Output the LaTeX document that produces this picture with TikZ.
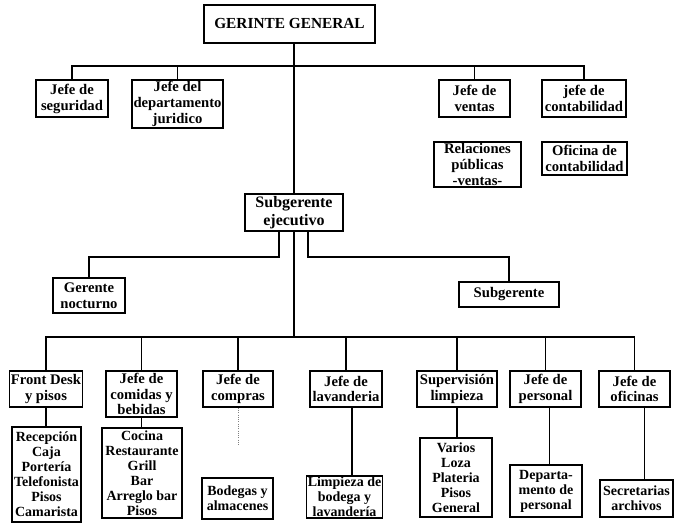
\documentclass[tikz,border=0pt]{standalone}
\usepackage{fontspec}
\setmainfont{Liberation Serif}
\begin{document}
\begin{tikzpicture}[x=0.75pt,y=-0.75pt,
  box/.style={draw, line width=1.3pt, inner sep=1pt, align=center,
    font=\bfseries\fontsize{11}{12}\selectfont},
  sz/.style 2 args={minimum width=#1*0.75pt, minimum height=#2*0.75pt},
  rowtxt/.style={font=\bfseries\fontsize{11}{11.6}\selectfont},
  lowtxt/.style={font=\bfseries\fontsize{10.5}{11.3}\selectfont},
  link/.style={line width=1.1pt},
  faint/.style={line width=0.7pt, draw=black!50, densely dotted}]
\useasboundingbox (0,0) rectangle (675,523);

% top management
\node[box, sz={171}{38}, font=\bfseries\fontsize{11.5}{13}\selectfont] (gg) at (289.5,24) {GERINTE GENERAL};
\node[box, sz={72}{37}] (seg) at (72,98.5) {Jefe de\\seguridad};
\node[box, sz={91}{48}] (jur) at (177.5,104) {Jefe del\\departamento\\juridico};
\node[box, sz={71}{37}] (ven) at (474.5,98.5) {Jefe de\\ventas};
\node[box, sz={84}{37}] (cont) at (584,98.5) {jefe de\\contabilidad};
\node[box, sz={87}{45}] (rel) at (477.5,164.5) {Relaciones\\públicas\\-ventas-};
\node[box, sz={85}{33}] (ofc) at (584.5,158.5) {Oficina de\\contabilidad};

% executive level
\node[box, sz={98}{37}, font=\bfseries\fontsize{12}{13.5}\selectfont] (sube) at (294,212.5) {Subgerente\\ejecutivo};
\node[box, sz={72}{35}] (noct) at (89,295.5) {Gerente\\nocturno};
\node[box, sz={100}{25}] (subg) at (509,294.5) {Subgerente};

% department heads
\node[box, rowtxt, sz={70}{36}] (fd) at (46,389) {Front Desk\\y pisos};
\node[box, rowtxt, sz={71}{46}] (com) at (141.5,394) {Jefe de\\comidas y\\bebidas};
\node[box, rowtxt, sz={70}{36}] (cmp) at (238,389) {Jefe de\\compras};
\node[box, rowtxt, sz={72}{36}] (lav) at (346,389) {Jefe de\\lavanderia};
\node[box, rowtxt, sz={80}{36}] (sup) at (457,389) {Supervisión\\limpieza};
\node[box, rowtxt, sz={71}{36}] (per) at (545.5,389) {Jefe de\\personal};
\node[box, rowtxt, sz={71}{36}] (ofi) at (634.5,389) {Jefe de\\oficinas};

% sections
\node[box, lowtxt, sz={69}{95}] (rec) at (46.5,474.5) {Recepción\\Caja\\Portería\\Telefonista\\Pisos\\Camarista};
\node[box, lowtxt, sz={80}{90}] (coc) at (142,473) {Cocina\\Restaurante\\Grill\\Bar\\Arreglo bar\\Pisos};
\node[box, lowtxt, sz={71}{41}] (bod) at (237.5,498.5) {Bodegas y\\almacenes};
\node[box, lowtxt, sz={75}{40}] (limp) at (344.5,497) {Limpieza de\\bodega y\\lavandería};
\node[box, lowtxt, sz={72}{79}] (var) at (456,477.5) {Varios\\Loza\\Plateria\\Pisos\\General};
\node[box, lowtxt, sz={72}{52}] (dep) at (546,491) {Departa-\\mento de\\personal};
\node[box, lowtxt, sz={73}{37}] (sec) at (636.5,498.5) {Secretarias\\archivos};

% connectors from the general manager
\coordinate (topbus) at (294,66);
\draw[link] (gg.south -| sube.north) -- (sube.north);
\draw[link] (seg.north) |- (topbus) -| (cont.north);
\draw[link] (jur.north) -- (jur.north |- topbus);
\draw[link] (ven.north) -- (ven.north |- topbus);

% connectors from the executive sub-manager
\draw[link] ([xshift=-11.25pt]sube.south) -- ++(0,25) -| (noct.north);
\draw[link] ([xshift=10.5pt]sube.south) -- ++(0,25) -| (subg.north);
\coordinate (lowbus) at (294,337);
\draw[link] (sube.south) -- (lowbus);
\draw[link] (fd.north) |- (lowbus) -| (ofi.north);
\foreach \n in {com,cmp,lav,sup,per}
  \draw[link] (\n.north) -- (\n.north |- lowbus);

% department heads to their sections
\coordinate (cmpend) at (240,445);
\draw[link] (fd.south) -- (fd.south |- rec.north);
\draw[link] (com.south) -- (com.south |- coc.north);
\draw[faint] (cmp.south) -- (cmp.south |- cmpend);
\draw[link] ([xshift=4.5pt]lav.south) -- ([xshift=4.5pt]lav.south |- limp.north);
\draw[link] (sup.south) -- (sup.south |- var.north);
\draw[link] ([xshift=3pt]per.south) -- ([xshift=3pt]per.south |- dep.north);
\draw[link] ([xshift=7.5pt]ofi.south) -- ([xshift=7.5pt]ofi.south |- sec.north);
\end{tikzpicture}
\end{document}
